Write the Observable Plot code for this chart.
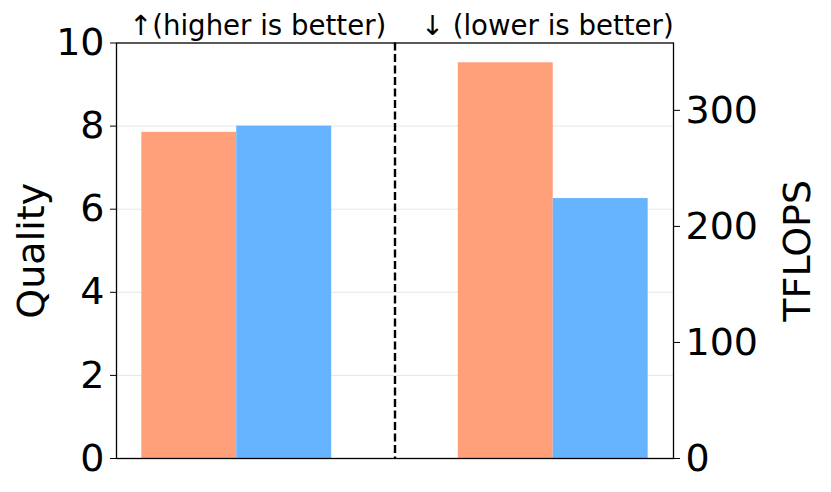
<!DOCTYPE html>
<html><head><meta charset="utf-8">
<script src="https://cdn.jsdelivr.net/npm/d3@7"></script>
<script src="https://cdn.jsdelivr.net/npm/@observablehq/plot@0.6"></script>
<style>
body{margin:0;background:#fff;}
#chart{position:relative;width:831px;height:492px;}
#chart > svg{position:absolute;left:0;top:0;}
</style></head><body><div id="chart"></div>
<script>
// ---- data ----
const series = ["Baseline", "Ours"];
const seriesColors = ["#FFA07A", "#66B3FF"];
const qualityValues = [7.85, 8.0];
const tflopsValues = [341, 224];
const qualityTicks = [0, 2, 4, 6, 8, 10];
const tflopsTicks = [0, 100, 200, 300];
const annotations = ["↑(higher is better)", "↓ (lower is better)"];

// ---- layout ----
const W = 831, H = 492;
const margins = {marginLeft: 116, marginRight: 158, marginTop: 42.5, marginBottom: 34};
const xDomain = [-0.38, 1.38];
const barWidth = 0.3;
const annX = [0.066, 0.981];
const font = "DejaVu Sans";
const style = {fontFamily: font, fontSize: "38px", background: "transparent", overflow: "visible", color: "black"};

const qualityData = series.map((s, i) => ({series: s, value: qualityValues[i], x1: 0 + (i - 1) * barWidth, x2: 0 + i * barWidth}));
const tflopsData = series.map((s, i) => ({series: s, value: tflopsValues[i], x1: 1 + (i - 1) * barWidth, x2: 1 + i * barWidth}));
const tflopsMax = d3.max(tflopsValues) * 1.05;

const p1 = Plot.plot({
  width: W, height: H, ...margins,
  x: {domain: xDomain, axis: null},
  y: {domain: [0, 10], axis: null},
  color: {domain: series, range: seriesColors},
  style,
  marks: [
    Plot.gridY(qualityTicks.slice(1, -1), {stroke: "#e6e6e6", strokeOpacity: 1, strokeWidth: 1}),
    Plot.rectY(qualityData, {x1: "x1", x2: "x2", y1: 0, y2: "value", fill: "series"}),
    Plot.ruleX([0.5], {stroke: "black", strokeWidth: 2.4, strokeDasharray: "8,3.5"}),
    Plot.axisY(qualityTicks, {anchor: "left", tickSize: 6, tickPadding: 6, fontSize: 38, label: null}),
    Plot.text(["Quality"], {frameAnchor: "left", textAnchor: "middle", dx: -85, rotate: -90, fontSize: 38}),
    Plot.text(annotations, {x: annX, frameAnchor: "top", lineAnchor: "bottom", dy: -8, fontSize: 27.6})
  ]
});

const p2 = Plot.plot({
  width: W, height: H, ...margins,
  x: {domain: xDomain, axis: null},
  y: {domain: [0, tflopsMax], axis: null},
  color: {domain: series, range: seriesColors},
  style,
  marks: [
    Plot.rectY(tflopsData, {x1: "x1", x2: "x2", y1: 0, y2: "value", fill: "series"}),
    Plot.axisY(tflopsTicks, {anchor: "right", tickSize: 6, tickPadding: 6, fontSize: 38, label: null}),
    Plot.text(["TFLOPS"], {frameAnchor: "right", textAnchor: "middle", dx: 124, rotate: -90, fontSize: 38}),
    Plot.frame({stroke: "black", strokeWidth: 1.3})
  ]
});

const root = document.getElementById("chart");
root.appendChild(p1);
root.appendChild(p2);
</script></body></html>
